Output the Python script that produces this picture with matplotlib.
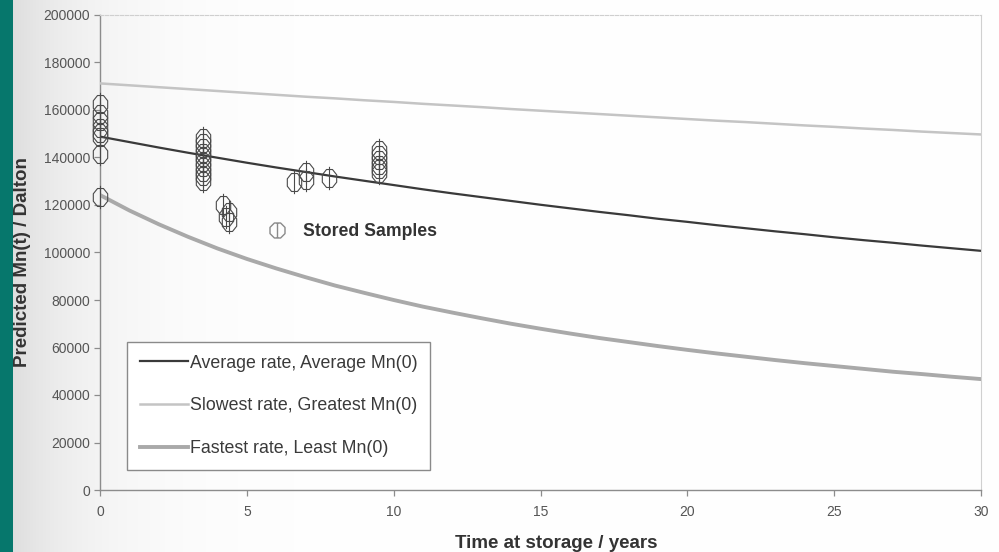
import numpy as np
import matplotlib
matplotlib.use("Agg")
import matplotlib.pyplot as plt
from matplotlib.path import Path
from matplotlib.lines import Line2D
from matplotlib.patches import Rectangle

plt.rcParams['font.family'] = ['Liberation Sans', 'DejaVu Sans']

# Predicted number-average molar mass over storage time (yearly readings)
years = list(range(0, 31))
mn_average = [148800, 146500, 144200, 142000, 139900, 137800, 135800, 133900,
              132000, 130200, 128400, 126600, 124900, 123300, 121700, 120100,
              118600, 117100, 115700, 114200, 112900, 111500, 110200, 108900,
              107700, 106400, 105200, 104100, 102900, 101800, 100700]
mn_slowest = [171200, 170400, 169600, 168800, 168000, 167200, 166400, 165600,
              164900, 164100, 163400, 162600, 161900, 161200, 160400, 159700,
              159000, 158300, 157600, 156900, 156200, 155500, 154900, 154200,
              153500, 152900, 152200, 151600, 150900, 150300, 149700]
mn_fastest = [124200, 117700, 111900, 106600, 101700, 97300, 93300, 89600,
              86100, 83000, 80000, 77200, 74700, 72300, 70000, 67900,
              65900, 64000, 62300, 60600, 59000, 57500, 56100, 54700,
              53400, 52200, 51000, 49800, 48800, 47700, 46700]

# Measured samples after storage
sample_years = [0, 0, 0, 0, 0, 0, 0, 0,
                3.5, 3.5, 3.5, 3.5, 3.5, 3.5, 3.5, 3.5, 3.5, 3.5,
                4.2, 4.4, 4.3, 4.4,
                6.6, 7.0, 7.0, 7.8,
                9.5, 9.5, 9.5, 9.5, 9.5, 9.5]
sample_mn = [162500, 158500, 155500, 152500, 150500, 148500, 141500, 123500,
             148000, 146000, 144000, 142000, 140000, 138000, 136000, 134000, 132000, 130000,
             120000, 117000, 115000, 113000,
             129500, 134000, 130500, 131500,
             143000, 141000, 139000, 137000, 135000, 133500]

x_ticks = [0, 5, 10, 15, 20, 25, 30]
y_ticks = [0, 20000, 40000, 60000, 80000, 100000, 120000, 140000,
           160000, 180000, 200000]

series_labels = ["Average rate, Average Mn(0)",
                 "Slowest rate, Greatest Mn(0)",
                 "Fastest rate, Least Mn(0)"]
samples_label = "Stored Samples"


def octagon_marker(wx, hy, bar):
    ang = np.deg2rad(22.5 + 45 * np.arange(8))
    verts = [(wx * np.cos(a), hy * np.sin(a)) for a in ang]
    verts.append(verts[0])
    codes = [Path.MOVETO] + [Path.LINETO] * 7 + [Path.CLOSEPOLY]
    verts += [(0, -bar), (0, bar)]
    codes += [Path.MOVETO, Path.LINETO]
    return Path(verts, codes)


sample_marker = octagon_marker(0.8, 1.0, 1.2)
key_marker = octagon_marker(1.0, 1.0, 0.92)

W, H = 999, 552
fig = plt.figure(figsize=(W / 100, H / 100), dpi=100)

# page background: grey shading at the left edge fading to white
bg = fig.add_axes([0, 0, 1, 1], zorder=-10)
xs = np.arange(W)
shade = 1.0 - 0.13 * np.exp(-np.clip(xs - 13, 0, None) / 80.0)
img = np.tile(shade, (H, 1))
bg.imshow(np.dstack([img, img, img]), extent=[0, W, 0, H], aspect='auto',
          interpolation='bilinear')
bg.add_patch(Rectangle((0, 0), 13, H, color='#06776c', lw=0))
bg.set_xlim(0, W)
bg.set_ylim(0, H)
bg.axis('off')

ax = fig.add_axes([100 / W, 62 / H, 881 / W, 475 / H])
ax.set_facecolor('none')

ax.plot(years, mn_average, color='#3a3a3a', lw=1.6, label=series_labels[0],
        zorder=3)
ax.plot(years, mn_slowest, color='#c4c4c4', lw=1.8, label=series_labels[1],
        zorder=3)
ax.plot(years, mn_fastest, color='#a9a9a9', lw=2.8, label=series_labels[2],
        zorder=3)

ax.plot(sample_years, sample_mn, ls='none', marker=sample_marker, ms=16.8,
        mfc='none', mec='#4a4a4a', mew=0.8, zorder=4, clip_on=False)

ax.set_xlim(0, 30)
ax.set_ylim(0, 200000)
ax.set_xticks(x_ticks)
ax.set_yticks(y_ticks)
ax.set_xticklabels([str(v) for v in x_ticks])
ax.set_yticklabels([str(v) for v in y_ticks])

for side in ('left', 'bottom'):
    ax.spines[side].set_color('#8c8c8c')
    ax.spines[side].set_linewidth(1.0)
ax.spines['right'].set_color('#d0d0d0')
ax.spines['right'].set_linewidth(0.8)
ax.spines['top'].set_color('#cfcfcf')
ax.spines['top'].set_linewidth(0.8)
ax.spines['top'].set_linestyle((0, (3, 1.5)))

ax.tick_params(axis='both', colors='#8c8c8c', labelcolor='#555555',
               labelsize=10, length=4, width=0.9)
ax.tick_params(axis='y', pad=3)
ax.tick_params(axis='x', pad=7)

leg = ax.legend(loc='upper left', bbox_to_anchor=(27 / 881, 148 / 475),
                borderaxespad=0, fontsize=12.8, handlelength=2.7,
                handletextpad=0.12, borderpad=0.71, labelspacing=1.45,
                fancybox=False, framealpha=1, edgecolor='#8a8a8a',
                facecolor='white')
leg.get_frame().set_linewidth(1.0)
for t in leg.get_texts():
    t.set_color('#3a3a3a')
ax.add_artist(leg)

key = Line2D([], [], ls='none', marker=key_marker, ms=10.8, mfc='none',
             mec='#8a8a8a', mew=1.0)
leg2 = ax.legend([key], [samples_label], loc='center left',
                 bbox_to_anchor=((268 - 100) / 881, (490 - 232) / 475),
                 borderaxespad=0, borderpad=0, frameon=False,
                 handlelength=1.0, handletextpad=1.0,
                 prop={'size': 12.7, 'weight': 'bold'})
for t in leg2.get_texts():
    t.set_color('#333333')

fig.text(556 / W, 1 - 543 / H, "Time at storage / years", ha='center',
         va='center', fontsize=13.5, fontweight='bold', color='#333333')
fig.text(23 / W, 1 - 262 / H, "Predicted Mn(t) / Dalton", ha='center',
         va='center', rotation=90, fontsize=13.5, fontweight='bold',
         color='#333333')

fig.savefig("out.png", dpi=100)
